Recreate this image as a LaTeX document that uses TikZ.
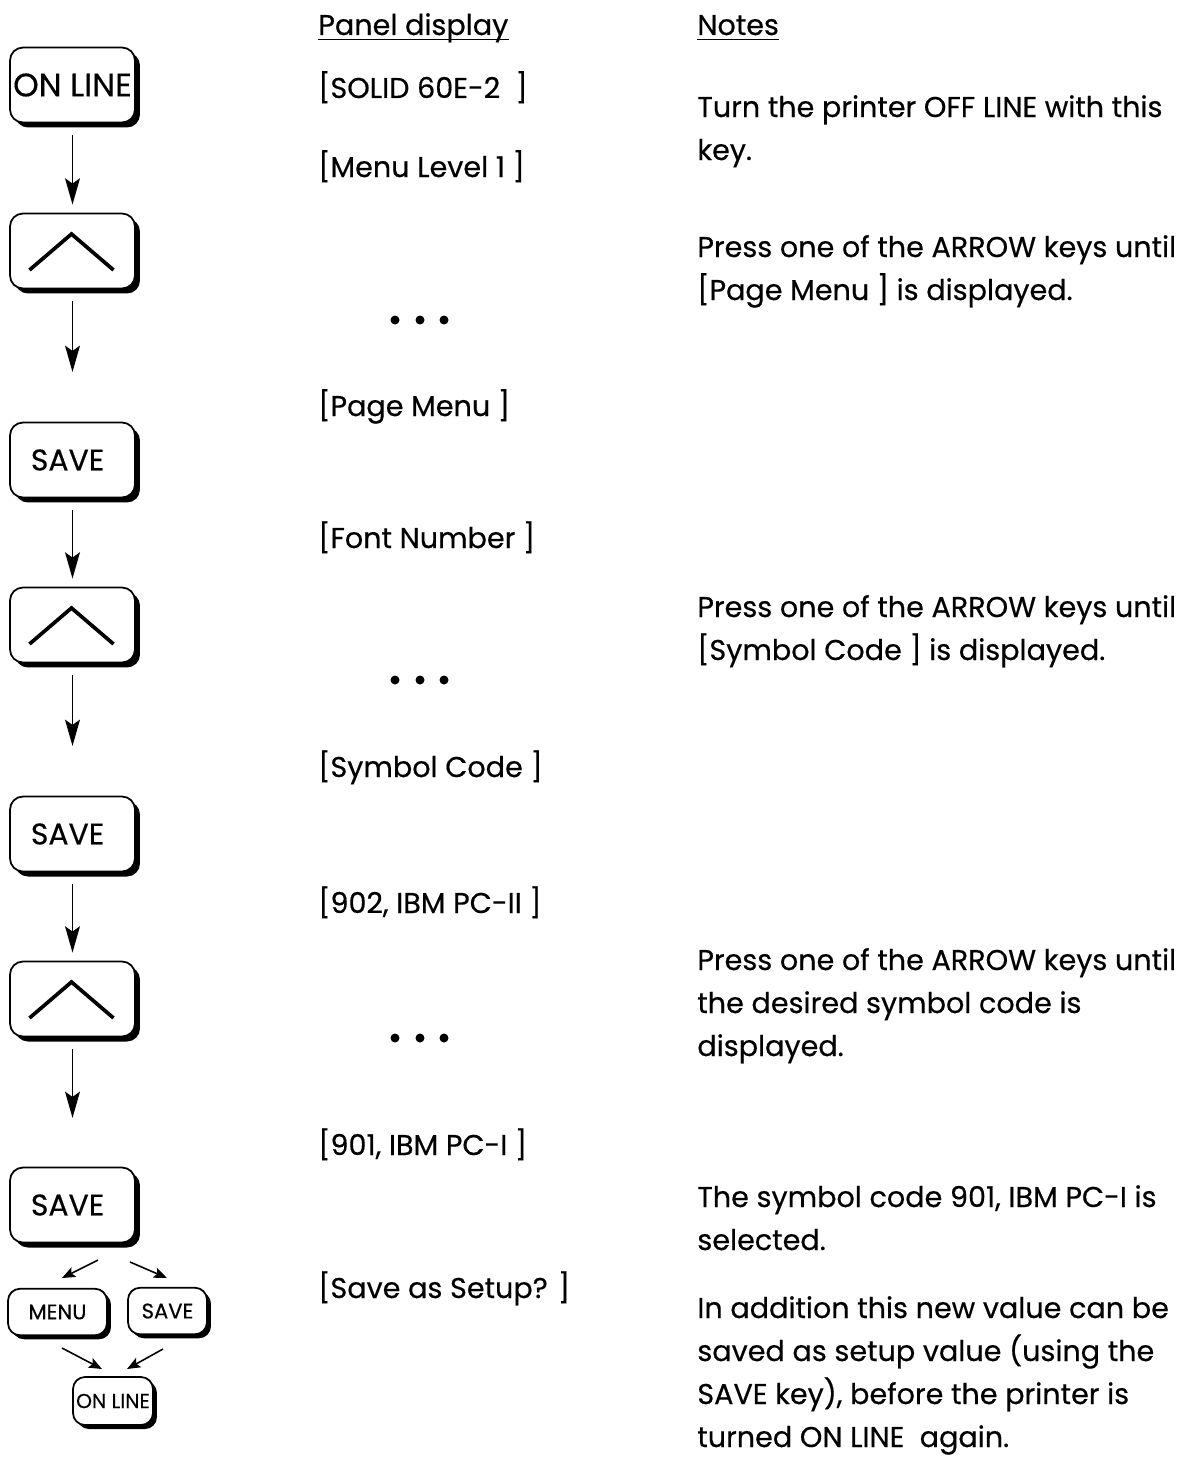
\documentclass[tikz,border=0pt]{standalone}
\usepackage{fontspec}
\setmainfont{Poppins}[FakeBold=0.45]
\usetikzlibrary{arrows.meta,shadows,calc}
\begin{document}
\begin{tikzpicture}[x=0.02cm,y=-0.02cm,
  keybase/.style={draw, line width=1pt, fill=white, inner sep=0pt},
  keybig/.style={keybase, rounded corners=0.26cm, minimum width=2.5cm, minimum height=1.5cm,
    drop shadow={shadow xshift=0.1cm, shadow yshift=-0.1cm, fill=black, opacity=1},
    font=\fontsize{17}{17}\selectfont},
  keysmall/.style={keybase, rounded corners=0.24cm, minimum height=0.93cm,
    drop shadow={shadow xshift=0.08cm, shadow yshift=-0.08cm, fill=black, opacity=1},
    font=\fontsize{12}{12}\selectfont},
  txt/.style={anchor=base west, inner sep=0pt, font=\fontsize{16.3}{18}\selectfont},
  arr/.style={line width=0.9pt, -{Stealth[length=15pt,width=8.5pt,inset=3pt]}},
  arrs/.style={line width=0.9pt, -{Stealth[length=7.5pt,width=6pt,inset=1.5pt]}},
  caret/.style={line width=2.1pt},
  dot/.style={circle, fill=black, inner sep=0pt, minimum size=0.18cm},
  uline/.style={line width=0.9pt}
]
\useasboundingbox (0,0) rectangle (1189,1460);

% ---------- keys column ----------
\node[keybig] (k0) at (72.5,85) {\makebox[0pt]{\fontsize{18.5}{18.5}\selectfont ON LINE}};
\node[keybig] (k1) at (72.5,251) {};
\node[keybig] (k2) at (72.5,460) {\makebox[0pt]{\hspace*{-0.2cm}SAVE}};
\node[keybig] (k3) at (72.5,625) {};
\node[keybig] (k4) at (72.5,834) {\makebox[0pt]{\hspace*{-0.2cm}SAVE}};
\node[keybig] (k5) at (72.5,999) {};
\node[keybig] (k6) at (72.5,1205) {\makebox[0pt]{\hspace*{-0.2cm}SAVE}};

\foreach \k in {k1,k3,k5}{
  \draw[caret] ($(\k.center)+(-43,19)$) -- ($(\k.center)+(-1,-17)$) -- ($(\k.center)+(41,19)$);
}

\coordinate (e1) at (72.5,372);
\coordinate (e3) at (72.5,746);
\coordinate (e5) at (72.5,1118);

\draw[arr] ([yshift=-0.24cm]k0.south) -- ([yshift=0.16cm]k1.north);
\draw[arr] ([yshift=-0.24cm]k1.south) -- (e1);
\draw[arr] ([yshift=-0.24cm]k2.south) -- ([yshift=0.16cm]k3.north);
\draw[arr] ([yshift=-0.24cm]k3.south) -- (e3);
\draw[arr] ([yshift=-0.24cm]k4.south) -- ([yshift=0.16cm]k5.north);
\draw[arr] ([yshift=-0.24cm]k5.south) -- (e5);

% small keys
\node[keysmall, minimum width=1.98cm] (menu) at (57.5,1312) {\makebox[0pt]{MENU}};
\node[keysmall, minimum width=1.58cm] (sv) at (167.5,1311) {\makebox[0pt]{SAVE}};
\node[keysmall, minimum width=1.6cm, minimum height=0.96cm] (ol) at (113,1401) {\makebox[0pt]{\fontsize{11.5}{11.5}\selectfont ON LINE}};

\coordinate (s1) at (98,1260);
\coordinate (s2) at (130,1262);
\coordinate (s3) at (62,1348);
\coordinate (s4) at (163,1349);
\draw[arrs] (s1) -- (62,1278);
\draw[arrs] (s2) -- (167,1278);
\draw[arrs] (s3) -- (102,1369);
\draw[arrs] (s4) -- (127,1369);

% ---------- panel display column ----------
\node[txt] (ph) at (318,35) {Panel display};
\draw[uline] ([yshift=-2.6pt]ph.base west) -- ([yshift=-2.6pt]ph.base east);
\node[txt] (p1) at (318,98) {[SOLID 60E-2\ \ ]};
\node[txt] (p2) at (318,177) {[Menu Level 1 ]};
\node[dot] (d1a) at (395,320) {};
\node[dot] (d1b) at (420,320) {};
\node[dot] (d1c) at (444,320) {};
\node[txt] (p3) at (318,416) {[Page Menu ]};
\node[txt] (p4) at (318,548) {[Font Number ]};
\node[dot] (d2a) at (395,680) {};
\node[dot] (d2b) at (420,680) {};
\node[dot] (d2c) at (444,680) {};
\node[txt] (p5) at (318,777) {[Symbol Code ]};
\node[txt] (p6) at (318,913) {[902, IBM PC-II ]};
\node[dot] (d3a) at (395,1038) {};
\node[dot] (d3b) at (420,1038) {};
\node[dot] (d3c) at (444,1038) {};
\node[txt] (p7) at (318,1155) {[901, IBM PC-I ]};
\node[txt] (p8) at (318,1298) {[Save as Setup? ]};

% ---------- notes column ----------
\node[txt] (nh) at (697,35) {Notes};
\draw[uline] ([yshift=-2.6pt]nh.base west) -- ([yshift=-2.6pt]nh.base east);
\node[txt] (n1) at (697,117) {Turn the printer OFF LINE with this};
\node[txt] (n2) at (697,160) {key.};
\node[txt] (n3) at (697,257) {Press one of the ARROW keys until};
\node[txt] (n4) at (697,300) {[Page Menu ] is displayed.};
\node[txt] (n5) at (697,617) {Press one of the ARROW keys until};
\node[txt] (n6) at (697,660) {[Symbol Code ] is displayed.};
\node[txt] (n7) at (697,970) {Press one of the ARROW keys until};
\node[txt] (n8) at (697,1013) {the desired symbol code is};
\node[txt] (n9) at (697,1056) {displayed.};
\node[txt] (n10) at (697,1207) {The symbol code 901, IBM PC-I is};
\node[txt] (n11) at (697,1250) {selected.};
\node[txt] (n12) at (697,1318) {In addition this new value can be};
\node[txt] (n13) at (697,1361) {saved as setup value (using the};
\node[txt] (n14) at (697,1404) {SAVE key), before the printer is};
\node[txt] (n15) at (697,1447) {turned ON LINE\ \ again.};
\end{tikzpicture}
\end{document}
